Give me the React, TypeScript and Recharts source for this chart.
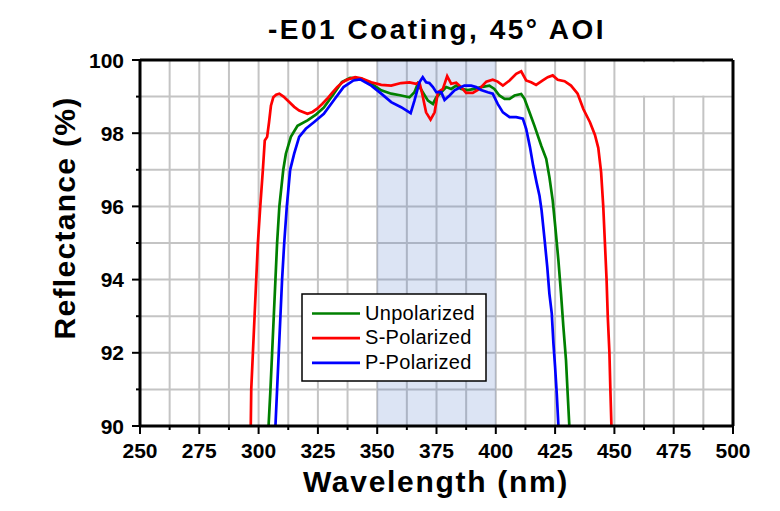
import React from 'react';
import {
  LineChart,
  Line,
  XAxis,
  YAxis,
  CartesianGrid,
  ReferenceArea,
  ReferenceLine,
} from 'recharts';

const FONT = '"Liberation Sans", Arial, sans-serif';

const xTicks = [
  250, 262.5, 275, 287.5, 300, 312.5, 325, 337.5, 350, 362.5, 375, 387.5, 400,
  412.5, 425, 437.5, 450, 462.5, 475, 487.5, 500,
];
const yTicks = [90, 91, 92, 93, 94, 95, 96, 97, 98, 99, 100];

// S-Polarized
const sWl = [
  296.7, 296.9, 297.6, 298.3, 299.0, 299.7, 300.7, 301.8, 302.6, 303.6, 304.4,
  305.2, 306.2, 307.4, 308.75, 310.5, 312.9, 315, 317.1, 320.6, 322.7, 324.7,
  326.8, 328.9, 331, 333.1, 335.2, 337.2, 340.7, 343.3, 347.5, 351.7, 355.9,
  360.1, 363.6, 366.4, 367.8, 369, 370.6, 372.5, 374.2, 375.6, 377.7, 379.5,
  381.2, 383.3, 385.4, 387.5, 390.3, 393.1, 396, 398.7, 400.8, 403, 405.8,
  408.6, 410.7, 412.8, 414.9, 417, 419.8, 421.9, 424, 426.1, 429, 431.7, 434.5,
  436.9, 439.7, 441.8, 443.2, 444.4, 445.3, 446, 446.7, 447.2, 447.9, 448.3,
  448.75,
];
const sR = [
  90, 91, 92, 93, 94, 95, 96, 97, 97.8, 97.9, 98.3, 98.75, 98.98, 99.05, 99.08,
  99.0, 98.85, 98.72, 98.62, 98.53, 98.58, 98.67, 98.8, 98.94, 99.1, 99.26,
  99.38, 99.46, 99.53, 99.5, 99.39, 99.32, 99.3, 99.37, 99.39, 99.35, 99.39,
  99.07, 98.57, 98.37, 98.57, 99.12, 99.21, 99.56, 99.35, 99.38, 99.26, 99.1,
  99.1, 99.21, 99.41, 99.46, 99.41, 99.3, 99.44, 99.62, 99.69, 99.44, 99.39,
  99.32, 99.44, 99.53, 99.58, 99.46, 99.42, 99.3, 99.08, 98.66, 98.3, 97.95,
  97.6, 96.93, 96.0, 95.0, 94.0, 93.0, 92.0, 91.0, 90.0,
];

// Unpolarized
const uWl = [
  304.2, 305, 305.7, 306.4, 307.1, 307.8, 308.75, 310.4, 311.5, 313.6, 316.4,
  320.6, 324, 327.5, 331.7, 335.1, 338.6, 341.4, 343.3, 347.5, 351.7, 355.9,
  360.1, 363.6, 365.7, 367.1, 369.2, 371.4, 373.5, 374.9, 377, 379.1, 381.2,
  383.3, 385.4, 388.2, 391, 393.8, 397.3, 399.4, 401.5, 403.7, 405.8, 407.9,
  410.7, 412.1, 414.2, 416.3, 419.2, 421.25, 422.6, 424, 425.1, 426.4, 427.5,
  428.5, 429.6, 430.3, 431.0,
];
const uR = [
  90, 91, 92, 93, 94, 95, 96, 97, 97.44, 97.9, 98.2, 98.35, 98.5, 98.7, 99.08,
  99.4, 99.51, 99.5, 99.49, 99.35, 99.17, 99.08, 99.03, 98.98, 99.12, 99.35,
  99.12, 98.89, 98.8, 98.98, 99.12, 99.26, 99.21, 99.3, 99.21, 99.18, 99.21,
  99.26, 99.3, 99.21, 99.03, 98.94, 98.94, 99.03, 99.07, 98.94, 98.57, 98.2,
  97.65, 97.3, 96.8, 96.16, 95.43, 94.52, 93.61, 92.7, 91.79, 90.88, 90,
];

// P-Polarized
const pWl = [
  307.1, 307.8, 308.5, 309.2, 309.9, 310.8, 311.9, 313.3, 315, 317.1, 319.9,
  323.3, 327.5, 331.7, 335.8, 340, 342.8, 347.5, 351.7, 355.9, 360.1, 364.1,
  365.7, 367.8, 369.2, 370.6, 372.0, 373.5, 374.9, 377, 378.4, 380.5, 382.6,
  384.7, 386.8, 389.6, 391.7, 393.8, 396.6, 398.7, 400.8, 403, 405.8, 408.6,
  411.4, 412.8, 414.4, 415.8, 417.2, 418.4, 419.3, 420.6, 421.7, 422.6, 423.6,
  424.3, 425, 425.7, 426.4,
];
const pR = [
  90, 91, 92, 93, 94, 95, 96, 97, 97.44, 97.9, 98.12, 98.3, 98.53, 98.9, 99.26,
  99.44, 99.47, 99.3, 99.08, 98.85, 98.71, 98.55, 98.89, 99.39, 99.53, 99.39,
  99.37, 99.26, 99.12, 99.12, 98.91, 99.03, 99.17, 99.24, 99.3, 99.3, 99.26,
  99.18, 99.12, 99.08, 98.8, 98.57, 98.44, 98.44, 98.4, 98.12, 97.62, 97.1,
  96.65, 96.3, 95.89, 95.07, 94.34, 93.61, 93.07, 92.25, 91.61, 90.88, 90,
];

const toPoints = (wl: number[], r: number[]) =>
  wl.map((w, i) => ({ wl: w, r: r[i] }));

const sData = toPoints(sWl, sR);
const uData = toPoints(uWl, uR);
const pData = toPoints(pWl, pR);

const legendItems = [
  { name: 'Unpolarized', color: '#008000' },
  { name: 'S-Polarized', color: '#ff0000' },
  { name: 'P-Polarized', color: '#0000ff' },
];

const XTick = (props: any) => {
  const { x, y, payload } = props;
  const major = payload.value % 25 === 0;
  return (
    <g>
      <line x1={x} x2={x} y1={y} y2={y + (major ? 8 : 4)} stroke="#000" strokeWidth={2} />
      {major && (
        <text x={x} y={y + 32} textAnchor="middle" fontFamily={FONT} fontWeight="bold" fontSize={21} fill="#000">
          {payload.value}
        </text>
      )}
    </g>
  );
};

const YTick = (props: any) => {
  const { x, y, payload } = props;
  const major = payload.value % 2 === 0;
  return (
    <g>
      <line x1={x - (major ? 8 : 4)} x2={x} y1={y} y2={y} stroke="#000" strokeWidth={2} />
      {major && (
        <text x={x - 16} y={y + 7.5} textAnchor="end" fontFamily={FONT} fontWeight="bold" fontSize={21} fill="#000">
          {payload.value}
        </text>
      )}
    </g>
  );
};

export default function App() {
  return (
    <div style={{ position: 'absolute', left: 0, top: 0, width: 780, height: 511, background: '#fff' }}>
      <LineChart width={780} height={511} margin={{ top: 60, right: 47, bottom: 0, left: 0 }}>
        <CartesianGrid stroke="#c4c4c4" strokeWidth={2} />
        <ReferenceArea x1={350} x2={400} y1={90} y2={100} fill="#4472c4" fillOpacity={0.19} stroke="none" />
        <ReferenceArea x1={451} x2={500} y1={99.03} y2={99.94} fill="#fff" fillOpacity={1} stroke="none" />
        <XAxis
          dataKey="wl"
          type="number"
          domain={[250, 500]}
          ticks={xTicks}
          allowDataOverflow
          height={85}
          tickSize={0}
          tickMargin={0}
          tickLine={false}
          tick={<XTick />}
          interval={0}
          axisLine={{ stroke: '#000', strokeWidth: 3 }}
          label={{
            content: () => (
              <text x={436} y={492} textAnchor="middle" fontFamily={FONT} fontWeight="bold" fontSize={30} letterSpacing={1.7} fill="#000">
                Wavelength (nm)
              </text>
            ),
          }}
        />
        <YAxis
          type="number"
          domain={[90, 100]}
          ticks={yTicks}
          allowDataOverflow
          width={140}
          tickSize={0}
          tickMargin={0}
          tickLine={false}
          tick={<YTick />}
          interval={0}
          axisLine={{ stroke: '#000', strokeWidth: 3 }}
          label={{
            content: () => (
              <text
                x={75}
                y={218}
                transform="rotate(-90 75 218)"
                textAnchor="middle"
                fontFamily={FONT}
                fontWeight="bold"
                fontSize={30}
                letterSpacing={1.3}
                fill="#000"
              >
                Reflectance (%)
              </text>
            ),
          }}
        />
        <Line data={uData} dataKey="r" type="linear" stroke="#008000" strokeWidth={2.7} dot={false} isAnimationActive={false} />
        <Line data={sData} dataKey="r" type="linear" stroke="#ff0000" strokeWidth={2.7} dot={false} isAnimationActive={false} />
        <Line data={pData} dataKey="r" type="linear" stroke="#0000ff" strokeWidth={2.7} dot={false} isAnimationActive={false} />
        <ReferenceLine y={100} stroke="#000" strokeWidth={3} />
        <ReferenceLine x={500} stroke="#000" strokeWidth={3} />
      </LineChart>
      <svg width={780} height={511} style={{ position: 'absolute', left: 0, top: 0, pointerEvents: 'none' }}>
        <text x={437} y={39} textAnchor="middle" fontFamily={FONT} fontWeight="bold" fontSize={28} letterSpacing={2.5} fill="#000">
          -E01 Coating, 45° AOI
        </text>
        <rect x={302} y={294} width={184} height={87} fill="#fff" stroke="#000" strokeWidth={1.5} />
        {legendItems.map((item, i) => (
          <g key={item.name}>
            <line x1={312} x2={360} y1={313.5 + i * 24.7} y2={313.5 + i * 24.7} stroke={item.color} strokeWidth={2.7} />
            <text x={365} y={319.5 + i * 24.7} fontFamily={FONT} fontSize={20} letterSpacing={0.3} fill="#000">
              {item.name}
            </text>
          </g>
        ))}
      </svg>
    </div>
  );
}
